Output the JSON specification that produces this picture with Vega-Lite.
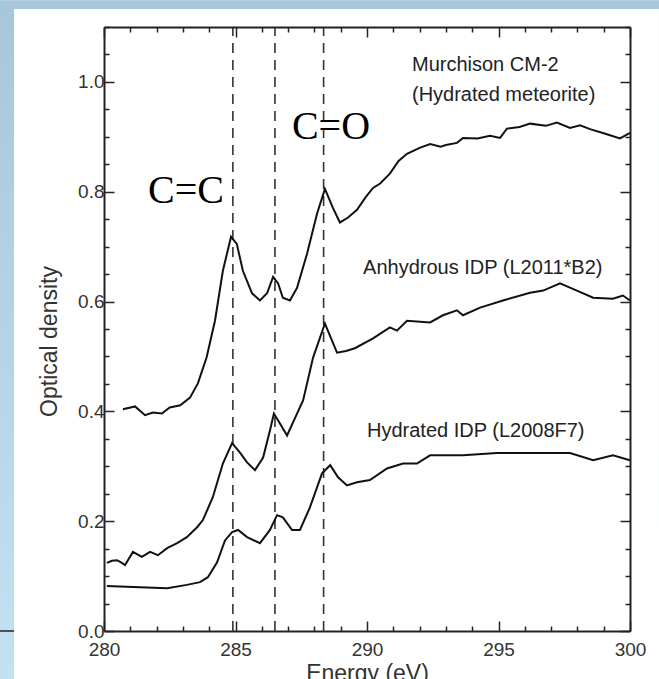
{
  "$schema": "https://vega.github.io/schema/vega-lite/v6.json",
  "width": 526,
  "height": 604,
  "autosize": {"type": "none"},
  "padding": {"left": 104, "top": 27, "right": 29, "bottom": 48},
  "background": "#b5d2e5",
  "config": {
    "view": {"stroke": null},
    "axis": {
      "grid": false,
      "labelFlush": false,
      "domainColor": "#222",
      "domainWidth": 2,
      "tickColor": "#222",
      "tickWidth": 1.5,
      "labelFont": "Liberation Sans",
      "labelFontSize": 19,
      "labelColor": "#333",
      "titleFont": "Liberation Sans",
      "titleFontSize": 23,
      "titleFontWeight": "normal",
      "titleColor": "#333"
    }
  },
  "datasets": {
    "canvas": [{"e0": 276.046, "e1": 301.1, "od0": -0.0873, "od1": 1.1473}],
    "panel": [{"e0": 276.58, "e1": 301.1, "od0": -0.0873, "od1": 1.1327}],
    "edge": [{"e0": 276.046, "e1": 276.58, "od": 0}],
    "bonds": [{"energy": 284.9}, {"energy": 286.5}, {"energy": 288.35}],
    "labels": [
      {"text": "Murchison CM-2", "energy": 291.71, "od": 1.02},
      {"text": "(Hydrated meteorite)", "energy": 291.71, "od": 0.965},
      {"text": "Anhydrous IDP (L2011*B2)", "energy": 289.85, "od": 0.651},
      {"text": "Hydrated IDP (L2008F7)", "energy": 290.0, "od": 0.353}
    ],
    "bondlabels": [
      {"text": "C=C", "energy": 283.12, "od": 0.78},
      {"text": "C=O", "energy": 288.63, "od": 0.896}
    ],
    "spectra": [
      {"series": "Murchison", "energy": 280.72, "od": 0.404},
      {"series": "Murchison", "energy": 281.18, "od": 0.409},
      {"series": "Murchison", "energy": 281.56, "od": 0.393},
      {"series": "Murchison", "energy": 281.86, "od": 0.398},
      {"series": "Murchison", "energy": 282.2, "od": 0.396},
      {"series": "Murchison", "energy": 282.5, "od": 0.407},
      {"series": "Murchison", "energy": 282.9, "od": 0.411},
      {"series": "Murchison", "energy": 283.27, "od": 0.425},
      {"series": "Murchison", "energy": 283.57, "od": 0.451},
      {"series": "Murchison", "energy": 283.9, "od": 0.498},
      {"series": "Murchison", "energy": 284.22, "od": 0.565},
      {"series": "Murchison", "energy": 284.52, "od": 0.656},
      {"series": "Murchison", "energy": 284.83, "od": 0.718},
      {"series": "Murchison", "energy": 285.05, "od": 0.705},
      {"series": "Murchison", "energy": 285.28, "od": 0.656},
      {"series": "Murchison", "energy": 285.63, "od": 0.615},
      {"series": "Murchison", "energy": 285.93, "od": 0.602},
      {"series": "Murchison", "energy": 286.2, "od": 0.615},
      {"series": "Murchison", "energy": 286.43, "od": 0.645},
      {"series": "Murchison", "energy": 286.62, "od": 0.633},
      {"series": "Murchison", "energy": 286.8, "od": 0.607},
      {"series": "Murchison", "energy": 287.07, "od": 0.602},
      {"series": "Murchison", "energy": 287.34, "od": 0.625},
      {"series": "Murchison", "energy": 287.72, "od": 0.687},
      {"series": "Murchison", "energy": 288.1, "od": 0.76},
      {"series": "Murchison", "energy": 288.4, "od": 0.805},
      {"series": "Murchison", "energy": 288.7, "od": 0.771},
      {"series": "Murchison", "energy": 288.97, "od": 0.744},
      {"series": "Murchison", "energy": 289.28, "od": 0.753},
      {"series": "Murchison", "energy": 289.62, "od": 0.767},
      {"series": "Murchison", "energy": 289.95, "od": 0.79},
      {"series": "Murchison", "energy": 290.23, "od": 0.807},
      {"series": "Murchison", "energy": 290.5, "od": 0.815},
      {"series": "Murchison", "energy": 290.87, "od": 0.833},
      {"series": "Murchison", "energy": 291.2, "od": 0.856},
      {"series": "Murchison", "energy": 291.52, "od": 0.869},
      {"series": "Murchison", "energy": 292.0, "od": 0.88},
      {"series": "Murchison", "energy": 292.4, "od": 0.887},
      {"series": "Murchison", "energy": 292.8, "od": 0.882},
      {"series": "Murchison", "energy": 293.0, "od": 0.885},
      {"series": "Murchison", "energy": 293.42, "od": 0.889},
      {"series": "Murchison", "energy": 293.65, "od": 0.898},
      {"series": "Murchison", "energy": 294.2, "od": 0.897},
      {"series": "Murchison", "energy": 294.68, "od": 0.902},
      {"series": "Murchison", "energy": 295.06, "od": 0.898},
      {"series": "Murchison", "energy": 295.32, "od": 0.915},
      {"series": "Murchison", "energy": 295.8, "od": 0.918},
      {"series": "Murchison", "energy": 296.2, "od": 0.924},
      {"series": "Murchison", "energy": 296.8, "od": 0.92},
      {"series": "Murchison", "energy": 297.22, "od": 0.926},
      {"series": "Murchison", "energy": 297.72, "od": 0.916},
      {"series": "Murchison", "energy": 298.1, "od": 0.921},
      {"series": "Murchison", "energy": 298.48, "od": 0.914},
      {"series": "Murchison", "energy": 298.97, "od": 0.907},
      {"series": "Murchison", "energy": 299.3, "od": 0.902},
      {"series": "Murchison", "energy": 299.62, "od": 0.897},
      {"series": "Murchison", "energy": 300.0, "od": 0.907},
      {"series": "Anhydrous", "energy": 280.11, "od": 0.124},
      {"series": "Anhydrous", "energy": 280.3, "od": 0.128},
      {"series": "Anhydrous", "energy": 280.49, "od": 0.129},
      {"series": "Anhydrous", "energy": 280.65, "od": 0.125},
      {"series": "Anhydrous", "energy": 280.8, "od": 0.12},
      {"series": "Anhydrous", "energy": 281.1, "od": 0.144},
      {"series": "Anhydrous", "energy": 281.44, "od": 0.135},
      {"series": "Anhydrous", "energy": 281.75, "od": 0.144},
      {"series": "Anhydrous", "energy": 282.05, "od": 0.138},
      {"series": "Anhydrous", "energy": 282.4, "od": 0.151},
      {"series": "Anhydrous", "energy": 282.78, "od": 0.16},
      {"series": "Anhydrous", "energy": 283.15, "od": 0.171},
      {"series": "Anhydrous", "energy": 283.54, "od": 0.189},
      {"series": "Anhydrous", "energy": 283.76, "od": 0.202},
      {"series": "Anhydrous", "energy": 284.14, "od": 0.244},
      {"series": "Anhydrous", "energy": 284.52, "od": 0.305},
      {"series": "Anhydrous", "energy": 284.87, "od": 0.342},
      {"series": "Anhydrous", "energy": 285.17, "od": 0.325},
      {"series": "Anhydrous", "energy": 285.44, "od": 0.307},
      {"series": "Anhydrous", "energy": 285.74, "od": 0.293},
      {"series": "Anhydrous", "energy": 286.05, "od": 0.316},
      {"series": "Anhydrous", "energy": 286.31, "od": 0.365},
      {"series": "Anhydrous", "energy": 286.46, "od": 0.396},
      {"series": "Anhydrous", "energy": 286.69, "od": 0.378},
      {"series": "Anhydrous", "energy": 286.96, "od": 0.356},
      {"series": "Anhydrous", "energy": 287.34, "od": 0.396},
      {"series": "Anhydrous", "energy": 287.57, "od": 0.42},
      {"series": "Anhydrous", "energy": 287.95, "od": 0.498},
      {"series": "Anhydrous", "energy": 288.4, "od": 0.56},
      {"series": "Anhydrous", "energy": 288.86, "od": 0.507},
      {"series": "Anhydrous", "energy": 289.2, "od": 0.51},
      {"series": "Anhydrous", "energy": 289.54, "od": 0.515},
      {"series": "Anhydrous", "energy": 290.23, "od": 0.533},
      {"series": "Anhydrous", "energy": 290.87, "od": 0.553},
      {"series": "Anhydrous", "energy": 291.14, "od": 0.547},
      {"series": "Anhydrous", "energy": 291.52, "od": 0.565},
      {"series": "Anhydrous", "energy": 292.4, "od": 0.562},
      {"series": "Anhydrous", "energy": 292.89, "od": 0.575},
      {"series": "Anhydrous", "energy": 293.42, "od": 0.584},
      {"series": "Anhydrous", "energy": 293.65, "od": 0.575},
      {"series": "Anhydrous", "energy": 294.3, "od": 0.589},
      {"series": "Anhydrous", "energy": 295.17, "od": 0.602},
      {"series": "Anhydrous", "energy": 296.2, "od": 0.616},
      {"series": "Anhydrous", "energy": 296.7, "od": 0.62},
      {"series": "Anhydrous", "energy": 297.34, "od": 0.633},
      {"series": "Anhydrous", "energy": 297.98, "od": 0.62},
      {"series": "Anhydrous", "energy": 298.6, "od": 0.607},
      {"series": "Anhydrous", "energy": 299.35, "od": 0.605},
      {"series": "Anhydrous", "energy": 299.73, "od": 0.611},
      {"series": "Anhydrous", "energy": 300.0, "od": 0.602},
      {"series": "Hydrated", "energy": 280.11, "od": 0.082},
      {"series": "Hydrated", "energy": 281.1, "od": 0.08},
      {"series": "Hydrated", "energy": 282.4, "od": 0.078},
      {"series": "Hydrated", "energy": 283.15, "od": 0.084},
      {"series": "Hydrated", "energy": 283.65, "od": 0.089},
      {"series": "Hydrated", "energy": 283.95, "od": 0.098},
      {"series": "Hydrated", "energy": 284.3, "od": 0.125},
      {"series": "Hydrated", "energy": 284.6, "od": 0.165},
      {"series": "Hydrated", "energy": 284.87, "od": 0.18},
      {"series": "Hydrated", "energy": 285.1, "od": 0.184},
      {"series": "Hydrated", "energy": 285.44, "od": 0.171},
      {"series": "Hydrated", "energy": 285.93, "od": 0.16},
      {"series": "Hydrated", "energy": 286.31, "od": 0.184},
      {"series": "Hydrated", "energy": 286.58, "od": 0.211},
      {"series": "Hydrated", "energy": 286.8, "od": 0.207},
      {"series": "Hydrated", "energy": 287.15, "od": 0.184},
      {"series": "Hydrated", "energy": 287.45, "od": 0.184},
      {"series": "Hydrated", "energy": 287.83, "od": 0.225},
      {"series": "Hydrated", "energy": 288.29, "od": 0.287},
      {"series": "Hydrated", "energy": 288.6, "od": 0.302},
      {"series": "Hydrated", "energy": 288.9, "od": 0.28},
      {"series": "Hydrated", "energy": 289.24, "od": 0.265},
      {"series": "Hydrated", "energy": 289.62, "od": 0.271},
      {"series": "Hydrated", "energy": 290.11, "od": 0.275},
      {"series": "Hydrated", "energy": 290.76, "od": 0.296},
      {"series": "Hydrated", "energy": 291.37, "od": 0.305},
      {"series": "Hydrated", "energy": 291.9, "od": 0.305},
      {"series": "Hydrated", "energy": 292.4, "od": 0.32},
      {"series": "Hydrated", "energy": 293.65, "od": 0.32},
      {"series": "Hydrated", "energy": 294.94, "od": 0.324},
      {"series": "Hydrated", "energy": 296.2, "od": 0.324},
      {"series": "Hydrated", "energy": 297.72, "od": 0.324},
      {"series": "Hydrated", "energy": 298.6, "od": 0.311},
      {"series": "Hydrated", "energy": 299.35, "od": 0.32},
      {"series": "Hydrated", "energy": 300.0, "od": 0.311}
    ]
  },
  "layer": [
    {
      "data": {"name": "canvas"},
      "mark": {"type": "rect", "clip": false, "fill": {"gradient": "linear", "x1": 0, "y1": 0, "x2": 0, "y2": 1, "stops": [{"offset": 0, "color": "#a8c6db"}, {"offset": 1, "color": "#c4e1f2"}]}},
      "encoding": {
        "x": {"field": "e0", "type": "quantitative", "scale": {"domain": [280, 300], "nice": false, "zero": false}, "axis": null},
        "x2": {"field": "e1"},
        "y": {"field": "od0", "type": "quantitative", "scale": {"domain": [0, 1.1], "nice": false, "zero": false}, "axis": null},
        "y2": {"field": "od1"}
      }
    },
    {
      "data": {"name": "panel"},
      "mark": {"type": "rect", "clip": false, "fill": "white"},
      "encoding": {
        "x": {"field": "e0", "type": "quantitative", "scale": {"domain": [280, 300], "nice": false, "zero": false}, "axis": null},
        "x2": {"field": "e1"},
        "y": {"field": "od0", "type": "quantitative", "scale": {"domain": [0, 1.1], "nice": false, "zero": false}, "axis": null},
        "y2": {"field": "od1"}
      }
    },
    {
      "data": {"name": "edge"},
      "mark": {"type": "rule", "clip": false, "stroke": "#222", "strokeWidth": 1.5},
      "encoding": {
        "x": {"field": "e0", "type": "quantitative", "scale": {"domain": [280, 300], "nice": false, "zero": false}, "axis": null},
        "x2": {"field": "e1"},
        "y": {"field": "od", "type": "quantitative", "scale": {"domain": [0, 1.1], "nice": false, "zero": false}, "axis": null}
      }
    },
    {
      "data": {"name": "bonds"},
      "mark": {"type": "rule", "stroke": "#333", "strokeWidth": 1.6, "strokeDash": [10, 7]},
      "encoding": {
        "x": {
          "field": "energy", "type": "quantitative",
          "scale": {"domain": [280, 300], "nice": false, "zero": false},
          "axis": {
            "orient": "top", "title": null, "labels": false, "zindex": 2,
            "values": [280, 281, 282, 283, 284, 285, 286, 287, 288, 289, 290, 291, 292, 293, 294, 295, 296, 297, 298, 299, 300],
            "tickSize": {"condition": {"test": "datum.value % 5 === 0", "value": -10}, "value": -5}
          }
        },
        "y": {
          "datum": 0, "type": "quantitative",
          "scale": {"domain": [0, 1.1], "nice": false, "zero": false},
          "axis": {
            "orient": "right", "title": null, "labels": false, "zindex": 2,
            "values": [0, 0.05, 0.1, 0.15, 0.2, 0.25, 0.3, 0.35, 0.4, 0.45, 0.5, 0.55, 0.6, 0.65, 0.7, 0.75, 0.8, 0.85, 0.9, 0.95, 1, 1.05, 1.1],
            "tickSize": {"condition": {"test": "abs(datum.value*5 - round(datum.value*5)) < 0.001", "value": -10}, "value": -5}
          }
        },
        "y2": {"datum": 1.1}
      }
    },
    {
      "data": {"name": "spectra"},
      "mark": {"type": "line", "stroke": "#111", "strokeWidth": 2},
      "encoding": {
        "x": {
          "field": "energy", "type": "quantitative",
          "scale": {"domain": [280, 300], "nice": false, "zero": false},
          "axis": {
            "orient": "bottom", "title": "Energy (eV)", "zindex": 2,
            "values": [280, 281, 282, 283, 284, 285, 286, 287, 288, 289, 290, 291, 292, 293, 294, 295, 296, 297, 298, 299, 300],
            "labelExpr": "datum.value % 5 === 0 ? datum.label : ''",
            "labelPadding": 19,
            "titlePadding": 3,
            "tickSize": {"condition": {"test": "datum.value % 5 === 0", "value": -10}, "value": -5}
          }
        },
        "y": {
          "field": "od", "type": "quantitative",
          "scale": {"domain": [0, 1.1], "nice": false, "zero": false},
          "axis": {
            "orient": "left", "title": "Optical density", "zindex": 2,
            "values": [0, 0.05, 0.1, 0.15, 0.2, 0.25, 0.3, 0.35, 0.4, 0.45, 0.5, 0.55, 0.6, 0.65, 0.7, 0.75, 0.8, 0.85, 0.9, 0.95, 1, 1.05, 1.1],
            "labelExpr": "abs(datum.value*5 - round(datum.value*5)) < 0.001 && datum.value < 1.05 ? format(datum.value, '.1f') : ''",
            "labelPadding": 10,
            "titlePadding": 16,
            "titleY": 314,
            "tickSize": {"condition": {"test": "abs(datum.value*5 - round(datum.value*5)) < 0.001", "value": -10}, "value": -5}
          }
        },
        "detail": {"field": "series", "type": "nominal"}
      }
    },
    {
      "data": {"name": "labels"},
      "mark": {"type": "text", "align": "left", "baseline": "alphabetic", "font": "Liberation Sans", "fontSize": 20, "fill": "#222"},
      "encoding": {
        "x": {"field": "energy", "type": "quantitative", "scale": {"domain": [280, 300], "nice": false, "zero": false}, "axis": null},
        "y": {"field": "od", "type": "quantitative", "scale": {"domain": [0, 1.1], "nice": false, "zero": false}, "axis": null},
        "text": {"field": "text"}
      }
    },
    {
      "data": {"name": "bondlabels"},
      "mark": {"type": "text", "align": "center", "baseline": "alphabetic", "font": "Liberation Serif", "fontSize": 40, "fill": "#000"},
      "encoding": {
        "x": {"field": "energy", "type": "quantitative", "scale": {"domain": [280, 300], "nice": false, "zero": false}, "axis": null},
        "y": {"field": "od", "type": "quantitative", "scale": {"domain": [0, 1.1], "nice": false, "zero": false}, "axis": null},
        "text": {"field": "text"}
      }
    }
  ],
  "resolve": {"axis": {"x": "independent", "y": "independent"}}
}
